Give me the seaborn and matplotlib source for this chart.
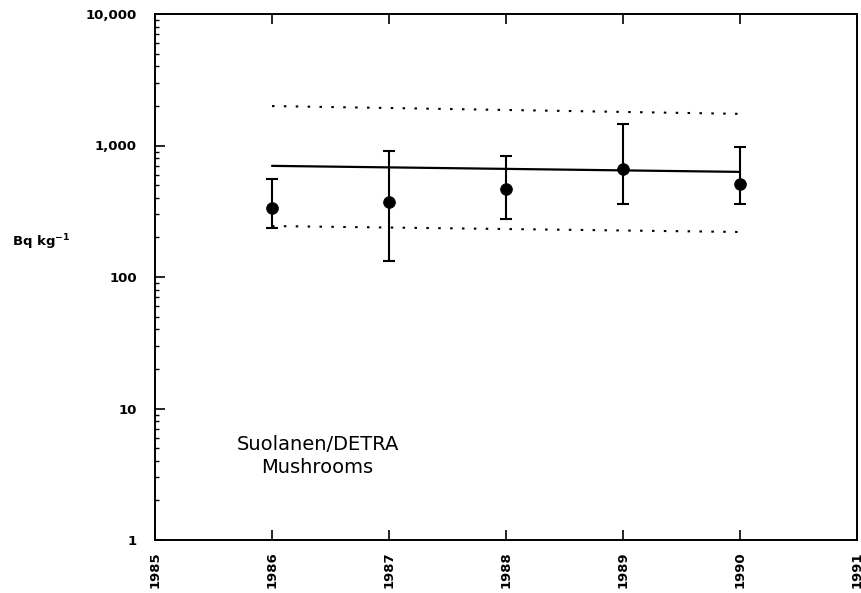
import matplotlib
matplotlib.use("Agg")
import matplotlib.pyplot as plt
import seaborn as sns
import pandas as pd
import numpy as np
from matplotlib.ticker import FixedLocator, LogLocator, NullFormatter

years = [1986, 1987, 1988, 1989, 1990]
means = [335, 372, 467, 662, 509]
err_hi = [556, 908, 832, 1460, 975]
err_lo = [236, 132, 276, 359, 359]

fit_years = [1986, 1990]
fit_vals = [700, 630]
upper_vals = [1995, 1740]
lower_vals = [244, 220]

ytick_vals = [1, 10, 100, 1000, 10000]
ytick_labels = ["1", "10", "100", "1,000", "10,000"]
xtick_vals = [1985, 1986, 1987, 1988, 1989, 1990, 1991]

sns.set_style("ticks")
plt.rcParams['font.family'] = ['DejaVu Sans']
plt.rcParams['text.color'] = 'black'
plt.rcParams['xtick.color'] = 'black'
plt.rcParams['ytick.color'] = 'black'

fig = plt.figure(figsize=(8.62, 5.93), dpi=100)
ax = fig.add_axes([155 / 862, 1 - 540 / 593, 702 / 862, 526 / 593])

df = pd.DataFrame({"year": years, "mean": means})
fit = pd.DataFrame({"year": fit_years, "fit": fit_vals, "upper": upper_vals, "lower": lower_vals})

yerr = np.array([np.array(means) - np.array(err_lo), np.array(err_hi) - np.array(means)])
ax.errorbar(years, means, yerr=yerr, fmt="none", ecolor="black", elinewidth=1.5,
            capsize=4, capthick=1.5, zorder=2)
sns.scatterplot(data=df, x="year", y="mean", color="black", s=70, edgecolor="black",
                zorder=3, ax=ax, legend=False)
sns.lineplot(data=fit, x="year", y="fit", color="black", linewidth=1.6, ax=ax)
sns.lineplot(data=fit, x="year", y="upper", color="black", linewidth=1.5,
             linestyle=(0, (1.2, 4.5)), ax=ax)
sns.lineplot(data=fit, x="year", y="lower", color="black", linewidth=1.5,
             linestyle=(0, (1.2, 4.5)), ax=ax)

ax.set_yscale("log")
ax.set_ylim(1, 10000)
ax.set_xlim(1985, 1991)
ax.yaxis.set_major_locator(FixedLocator(ytick_vals))
ax.set_yticklabels(ytick_labels, fontsize=9.5, fontweight="bold", color="black")
ax.yaxis.set_minor_locator(LogLocator(base=10, subs=np.arange(2, 10)))
ax.yaxis.set_minor_formatter(NullFormatter())
ax.set_xticks(xtick_vals)
ax.set_xticklabels([str(v) for v in xtick_vals], rotation=90, fontsize=9.5,
                   fontweight="bold", color="black")
ax.tick_params(axis="both", which="major", direction="in", length=7, width=1.2,
               top=True, right=False)
ax.tick_params(axis="y", which="major", pad=13)
ax.tick_params(axis="y", which="minor", direction="in", length=3, width=1)
ax.tick_params(axis="x", which="major", pad=8)
for s in ax.spines.values():
    s.set_linewidth(1.4)
    s.set_color("black")

ax.set_xlabel("")
ax.set_ylabel("")
fig.text(0.048, 1 - 242 / 593, "Bq kg$^{\\mathbf{-1}}$", fontsize=9.5, fontweight="bold",
         ha="center", va="center", color="black")

ax.text(1986.39, 4.35, "Suolanen/DETRA\nMushrooms", fontsize=14, ha="center", va="center",
        linespacing=1.25, color="black")

fig.savefig("out.png", dpi=100)
